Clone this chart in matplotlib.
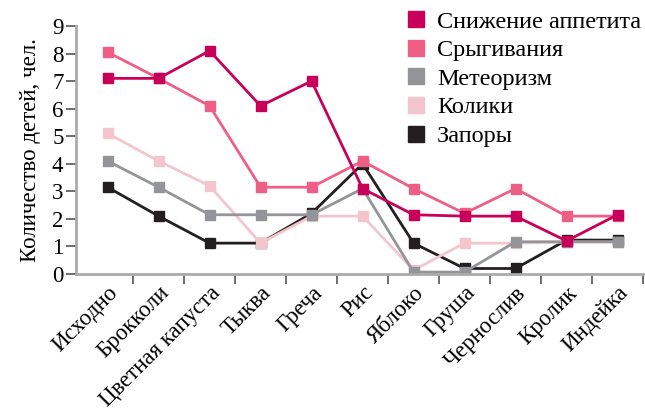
import matplotlib.pyplot as plt
from matplotlib.lines import Line2D
from matplotlib.transforms import ScaledTranslation
import numpy as np

plt.rcParams['font.family'] = ['Liberation Serif', 'DejaVu Serif']

categories = ['Исходно', 'Брокколи', 'Цветная капуста', 'Тыква', 'Греча', 'Рис',
              'Яблоко', 'Груша', 'Чернослив', 'Кролик', 'Индейка']

appetite = [7.1, 7.1, 8.1, 6.1, 7.0, 3.1, 2.15, 2.1, 2.1, 1.2, 2.15]
regurg = [8.05, 7.1, 6.1, 3.15, 3.15, 4.1, 3.1, 2.2, 3.1, 2.1, 2.1]
meteor = [4.1, 3.15, 2.15, 2.15, 2.15, 3.1, 0.07, 0.07, 1.17, 1.17, 1.17]
colic = [5.1, 4.1, 3.2, 1.12, 2.1, 2.1, 0.14, 1.12, 1.12, 1.16, 1.16]
constip = [3.15, 2.1, 1.12, 1.12, 2.2, 4.0, 1.12, 0.2, 0.2, 1.23, 1.23]

series = [
    ('Снижение аппетита', appetite, '#C8005A'),
    ('Срыгивания', regurg, '#EE5F85'),
    ('Метеоризм', meteor, '#939598'),
    ('Колики', colic, '#F2C6CC'),
    ('Запоры', constip, '#231F20'),
]

fig = plt.figure(figsize=(6.45, 4.18), dpi=100)
ax = fig.add_axes([76 / 645, 1 - 274 / 418, (643 - 76) / 645, (274 - 26) / 418])

x = np.arange(len(categories))
# draw back-to-front so the first series is on top
for name, vals, col in reversed(series):
    ax.plot(x, vals, color=col, lw=2, marker='s', ms=7.5, mec=col, mfc=col)

ax.set_xlim(-0.62, 10.5)
ax.set_ylim(0, 9)
ax.set_yticks(range(10))
ax.set_xticks(np.arange(0.5, 10.6, 1))
ax.set_xticklabels([])
ax.set_xticks(x, minor=True)
ax.set_xticklabels(categories, minor=True, rotation=45, ha='right', va='top',
                   rotation_mode='anchor', fontsize=16.5)
shift = ScaledTranslation(10 / 100, 0, fig.dpi_scale_trans)
for lbl in ax.get_xticklabels(minor=True):
    lbl.set_transform(lbl.get_transform() + shift)
ax.tick_params(axis='x', which='minor', length=0, pad=6)
ax.tick_params(axis='x', which='major', length=7, width=1.2, color='#555555')
ax.tick_params(axis='y', length=7, width=1.2, color='#555555', labelsize=16.5, pad=2)

for s in ['top', 'right']:
    ax.spines[s].set_visible(False)
for s in ['left', 'bottom']:
    ax.spines[s].set_color('#aaaaaa')
    ax.spines[s].set_linewidth(2)

ax.set_ylabel('Количество детей, чел.', fontsize=16.5, labelpad=8)

handles = [Line2D([], [], ls='none', marker='s', ms=11, color=c) for _, _, c in series]
ax.legend(handles, [n for n, _, _ in series], loc='upper left',
          bbox_to_anchor=(398 / 645, 1 - 1 / 418), bbox_transform=fig.transFigure,
          frameon=False, fontsize=17.5, handlelength=0.7, handletextpad=0.5,
          labelspacing=0.27, borderaxespad=0)

fig.savefig('out.png', dpi=100)
